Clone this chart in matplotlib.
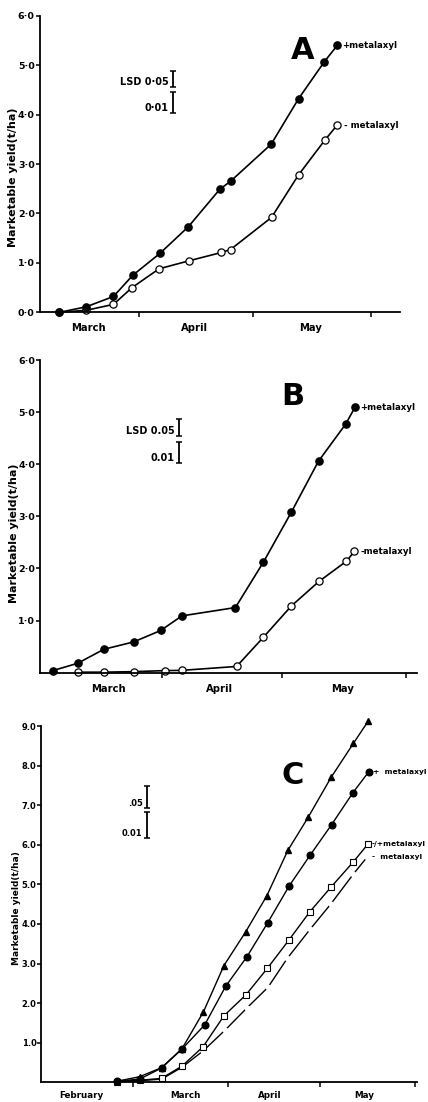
import matplotlib
matplotlib.use("Agg")
import matplotlib.pyplot as plt

plt.rcParams['font.family'] = ['DejaVu Sans']

# ---------------- data (x = days since 1 March) ----------------
months_AB = ["March", "April", "May"]
months_C = ["February", "March", "April", "May"]
month_bounds_AB = [31, 61, 92]
month_bounds_C = [0, 31, 61, 92]
label_pos_AB = [17.5, 45.4, 76.1]
label_pos_C = [-16.9, 16.9, 44.7, 75.4]

# Panel A
A_plus_days = [10, 17, 24.2, 29.3, 36.4, 43.9, 52.2, 55.0, 65.7, 72.9, 79.7, 83.1]
A_plus = [0.0, 0.11, 0.32, 0.75, 1.19, 1.73, 2.49, 2.65, 3.40, 4.32, 5.07, 5.40]
A_minus_days = [10, 17, 24.2, 29.1, 36.2, 44.0, 52.6, 55.0, 65.8, 72.9, 79.8, 83.0]
A_minus = [0.0, 0.04, 0.16, 0.50, 0.88, 1.04, 1.21, 1.27, 1.92, 2.78, 3.48, 3.78]
A_lsd_x = 39.9
A_lsd05 = (4.55, 4.89)
A_lsd01 = (4.04, 4.45)

# Panel B
B_plus_days = [3.6, 9.8, 16.4, 23.8, 30.6, 35.9, 49.3, 56.3, 63.3, 70.1, 76.9, 79.2]
B_plus = [0.04, 0.18, 0.45, 0.59, 0.81, 1.09, 1.25, 2.12, 3.08, 4.06, 4.77, 5.09]
B_minus_days = [9.8, 16.4, 23.8, 31.6, 35.9, 49.6, 56.3, 63.3, 70.2, 77.1, 79.1]
B_minus = [0.01, 0.01, 0.02, 0.04, 0.045, 0.12, 0.68, 1.28, 1.75, 2.14, 2.33]
B_lsd_x = 35.25
B_lsd05 = (4.54, 4.86)
B_lsd01 = (4.03, 4.43)

# Panel C
C_pm_days = [-5.2, 2.0, 9.2, 15.9, 22.9, 29.6, 36.7, 43.6, 50.5, 57.1, 64.6, 71.9, 76.8]
C_pm = [0.03, 0.14, 0.37, 0.85, 1.78, 2.95, 3.80, 4.71, 5.86, 6.69, 7.70, 8.56, 9.13]
C_plus_days = [-5.2, 2.0, 9.2, 15.9, 23.3, 30.2, 37.1, 43.9, 51.0, 57.8, 64.8, 71.8, 77.0]
C_plus = [0.03, 0.08, 0.36, 0.84, 1.45, 2.43, 3.17, 4.03, 4.97, 5.74, 6.51, 7.32, 7.85]
C_mp_days = [-5.2, 2.0, 9.2, 15.9, 22.8, 29.6, 36.8, 43.8, 50.8, 57.7, 64.7, 71.8, 76.7]
C_mp = [0.02, 0.05, 0.10, 0.41, 0.90, 1.68, 2.21, 2.88, 3.59, 4.31, 4.94, 5.56, 6.02]
C_minus_days = [-5.2, 2.0, 9.2, 15.9, 22.9, 30.0, 37.0, 44.0, 50.3, 57.7, 64.5, 71.9, 76.3]
C_minus = [0.02, 0.04, 0.08, 0.38, 0.80, 1.32, 1.87, 2.40, 3.13, 3.86, 4.50, 5.26, 5.68]
C_lsd_x = 4.6
C_lsd05 = (6.92, 7.48)
C_lsd01 = (6.16, 6.83)

ylabel = "Marketable yield(t/ha)"

W, H = 428, 1102
fig = plt.figure(figsize=(W / 100, H / 100), dpi=100)


def px_axes(l, r, t, b):
    return fig.add_axes([l / W, 1 - b / H, (r - l) / W, (b - t) / H])


def style(ax, xlim, ylim, yticks, ylabels, bounds, lpos, mnames, fs_tick, fs_month, month_pad):
    ax.set_xlim(*xlim)
    ax.set_ylim(*ylim)
    for s in ("top", "right"):
        ax.spines[s].set_visible(False)
    for s in ("left", "bottom"):
        ax.spines[s].set_linewidth(1.3)
    ax.set_yticks(yticks)
    ax.set_yticklabels(ylabels, fontsize=fs_tick, fontweight="bold")
    ax.tick_params(axis="y", length=3, width=1.1, pad=0.5)
    ax.set_xticks(bounds)
    ax.set_xticklabels([""] * len(bounds))
    ax.tick_params(axis="x", which="major", length=3.5, width=1.1)
    ax.set_xticks(lpos, minor=True)
    ax.set_xticklabels(mnames, minor=True, fontsize=fs_month, fontweight="bold")
    ax.tick_params(axis="x", which="minor", length=0, pad=month_pad)


def lsd(ax, x, r05, r01, t05, t01, fs):
    for (lo, hi), txt in ((r05, t05), (r01, t01)):
        ax.errorbar([x], [(lo + hi) / 2], yerr=[[(hi - lo) / 2], [(hi - lo) / 2]],
                    fmt="none", ecolor="black", elinewidth=1.3, capsize=2.3, capthick=1.1)
        ax.annotate(txt, (x, lo), xytext=(-3.5, 0), textcoords="offset points",
                    ha="right", va="bottom", fontsize=fs, fontweight="bold")


def endlabel(ax, x, y, txt, dx, fs):
    ax.annotate(txt, (x, y), xytext=(dx, 0), textcoords="offset points",
                ha="left", va="center", fontsize=fs, fontweight="bold")


lw = 1.2

# ---------------- Panel A ----------------
axA = px_axes(39.5, 400, 15.7, 312.3)
style(axA, (4.74, 99.6), (0, 6), [0, 1, 2, 3, 4, 5, 6],
      ["0·0", "1·0", "2·0", "3·0", "4·0", "5·0", "6·0"],
      month_bounds_AB, label_pos_AB, months_AB, 6.8, 7.2, 8)
axA.plot(A_minus_days, A_minus, "-o", color="black", lw=lw, ms=5.2, mfc="white", mec="black", mew=0.9, clip_on=False)
axA.plot(A_plus_days, A_plus, "-o", color="black", lw=lw, ms=5.2, mfc="black", mec="black", clip_on=False)
endlabel(axA, A_plus_days[-1], A_plus[-1], "+metalaxyl", 3.5, 6.2)
endlabel(axA, A_minus_days[-1], A_minus[-1], "- metalaxyl", 5, 6.2)
lsd(axA, A_lsd_x, A_lsd05, A_lsd01, "LSD 0·05", "0·01", 7)
axA.text(0.731, 0.881, "A", transform=axA.transAxes, ha="center", va="center",
         fontsize=22, fontweight="heavy")
axA.set_ylabel(ylabel, fontsize=8, fontweight="bold")
axA.yaxis.set_label_coords(-0.059, 0.456)

# ---------------- Panel B ----------------
axB = px_axes(40, 417, 360, 672.7)
style(axB, (0.39, 94.75), (0, 6), [1, 2, 3, 4, 5, 6],
      ["1·0", "2·0", "3·0", "4·0", "5·0", "6·0"],
      month_bounds_AB, label_pos_AB, months_AB, 6.8, 7.2, 8)
axB.plot(B_minus_days, B_minus, "-o", color="black", lw=lw, ms=5.2, mfc="white", mec="black", mew=0.9, clip_on=False)
axB.plot(B_plus_days, B_plus, "-o", color="black", lw=lw, ms=5.2, mfc="black", mec="black", clip_on=False)
endlabel(axB, B_plus_days[-1], B_plus[-1], "+metalaxyl", 3.5, 6.2)
endlabel(axB, B_minus_days[-1], B_minus[-1], "-metalaxyl", 4, 6.2)
lsd(axB, B_lsd_x, B_lsd05, B_lsd01, "LSD 0.05", "0.01", 7)
axB.text(0.671, 0.883, "B", transform=axB.transAxes, ha="center", va="center",
         fontsize=22, fontweight="heavy")
axB.set_ylabel(ylabel, fontsize=8, fontweight="bold")
axB.yaxis.set_label_coords(-0.056, 0.447)

# ---------------- Panel C ----------------
axC = px_axes(41.3, 417, 726, 1082.3)
style(axC, (-30.1, 92.7), (0, 9), [1, 2, 3, 4, 5, 6, 7, 8, 9],
      ["1.0", "2.0", "3.0", "4.0", "5.0", "6.0", "7.0", "8.0", "9.0"],
      month_bounds_C, label_pos_C, months_C, 6, 6.3, 6)
axC.plot(C_minus_days, C_minus, "-o", color="black", lw=1.0, ms=3.2, mfc="white", mec="white", clip_on=False)
axC.plot(C_mp_days, C_mp, "-s", color="black", lw=1.0, ms=4.6, mfc="white", mec="black", mew=0.8, clip_on=False)
axC.plot(C_plus_days, C_plus, "-o", color="black", lw=1.0, ms=4.8, mfc="black", mec="black", clip_on=False)
axC.plot(C_pm_days, C_pm, "-^", color="black", lw=1.0, ms=5.0, mfc="black", mec="black", clip_on=False)
endlabel(axC, C_pm_days[-1], C_pm[-1], "+/-metalaxyl", 3.5, 5.4)
endlabel(axC, C_plus_days[-1], C_plus[-1], "+  metalaxyl", 3, 5.4)
endlabel(axC, C_mp_days[-1], C_mp[-1], "-/+metalaxyl", 2.5, 5.4)
endlabel(axC, C_minus_days[-1], C_minus[-1], "-  metalaxyl", 4, 5.4)
lsd(axC, C_lsd_x, C_lsd05, C_lsd01, ".05", "0.01", 6)
axC.text(0.670, 0.860, "C", transform=axC.transAxes, ha="center", va="center",
         fontsize=22, fontweight="heavy")
axC.set_ylabel(ylabel, fontsize=6.5, fontweight="bold")
axC.yaxis.set_label_coords(-0.055, 0.489)

fig.savefig("out.png", dpi=100)
